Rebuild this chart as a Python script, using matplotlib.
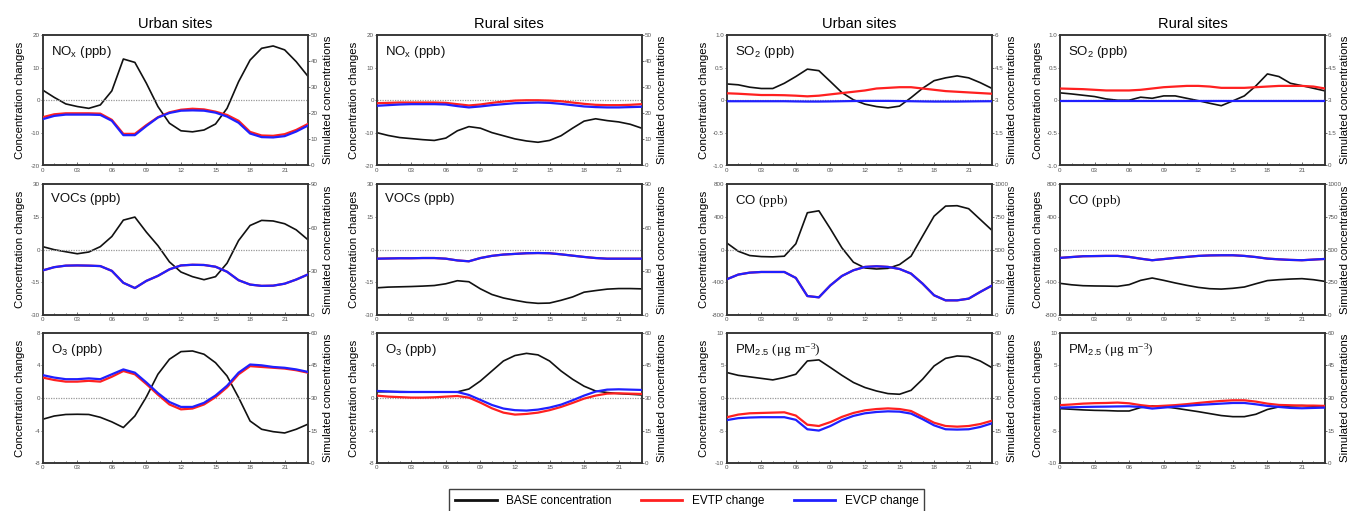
import matplotlib.pyplot as plt
from matplotlib.lines import Line2D
from matplotlib.ticker import MultipleLocator

plt.rcParams['font.family'] = ['Liberation Sans', 'DejaVu Sans']
plt.rcParams['mathtext.fontset'] = 'custom'
plt.rcParams['mathtext.rm'] = 'Liberation Serif'
plt.rcParams['mathtext.sf'] = 'Liberation Sans'

hours = list(range(24))
hour_ticks = [0, 3, 6, 9, 12, 15, 18, 21]
hour_labels = ['0', '03', '06', '09', '12', '15', '18', '21']
col_titles = ['Urban sites', 'Rural sites', 'Urban sites', 'Rural sites']

# NOx (ppb)
nox_urban_base = [28.9, 26.1, 23.6, 22.6, 21.9, 23.2, 28.6, 40.8, 39.5, 31.5, 22.6, 16.2,
                  13.3, 12.9, 13.6, 15.9, 21.9, 32.1, 40.4, 44.9, 45.8, 44.3, 39.8, 34.3]
nox_urban_evtp = [-5.2, -4.3, -4.0, -4.0, -4.0, -4.1, -6.0, -10.3, -10.3, -7.6, -5.2, -3.7,
                  -2.9, -2.6, -2.8, -3.5, -4.5, -6.3, -9.7, -10.8, -10.9, -10.4, -9.1, -7.3]
nox_urban_evcp = [-5.8, -4.8, -4.4, -4.4, -4.4, -4.5, -6.3, -10.7, -10.7, -7.9, -5.3, -3.9,
                  -3.2, -3.1, -3.2, -3.8, -5.0, -6.9, -10.2, -11.3, -11.4, -11.0, -9.6, -7.8]
nox_rural_base = [12.6, 11.5, 10.7, 10.3, 9.9, 9.6, 10.5, 13.3, 14.9, 14.3, 12.6, 11.4,
                  10.2, 9.4, 8.9, 9.6, 11.4, 14.3, 17.0, 17.9, 17.2, 16.7, 15.8, 14.3]
nox_rural_evtp = [-0.9, -0.8, -0.7, -0.7, -0.7, -0.7, -0.8, -1.2, -1.6, -1.3, -0.8, -0.4,
                  -0.1, 0.0, 0.0, -0.1, -0.3, -0.7, -1.1, -1.4, -1.5, -1.5, -1.4, -1.2]
nox_rural_evcp = [-1.7, -1.5, -1.3, -1.2, -1.2, -1.2, -1.3, -1.8, -2.2, -1.9, -1.5, -1.2,
                  -0.9, -0.8, -0.7, -0.8, -1.1, -1.5, -1.9, -2.1, -2.2, -2.2, -2.1, -2.0]

# SO2 (ppb)
so2_urban_base = [3.75, 3.71, 3.60, 3.54, 3.54, 3.78, 4.09, 4.43, 4.36, 3.86, 3.35, 3.02,
                  2.82, 2.71, 2.65, 2.73, 3.12, 3.55, 3.90, 4.03, 4.12, 4.03, 3.81, 3.55]
so2_urban_evtp = [0.107, 0.10, 0.09, 0.08, 0.08, 0.077, 0.07, 0.06, 0.07, 0.09, 0.11, 0.13,
                  0.15, 0.18, 0.19, 0.20, 0.20, 0.18, 0.16, 0.14, 0.13, 0.12, 0.11, 0.10]
so2_urban_evcp = [-0.015, -0.015, -0.015, -0.015, -0.015, -0.015, -0.018, -0.02, -0.02, -0.018,
                  -0.015, -0.012, -0.01, -0.01, -0.01, -0.012, -0.015, -0.018, -0.02, -0.02,
                  -0.02, -0.018, -0.016, -0.015]
so2_rural_base = [3.34, 3.29, 3.23, 3.17, 3.06, 3.00, 3.00, 3.14, 3.09, 3.20, 3.20, 3.09,
                  2.98, 2.86, 2.75, 2.97, 3.20, 3.66, 4.21, 4.09, 3.78, 3.67, 3.55, 3.43]
so2_rural_evtp = [0.18, 0.175, 0.17, 0.16, 0.15, 0.15, 0.15, 0.16, 0.18, 0.20, 0.21, 0.22,
                  0.22, 0.21, 0.19, 0.19, 0.19, 0.20, 0.21, 0.22, 0.22, 0.22, 0.21, 0.18]
so2_rural_evcp = [-0.01] * 24

# VOCs (ppb)
voc_urban_base = [47.0, 44.9, 43.5, 42.1, 43.3, 47.0, 54.0, 65.3, 67.4, 57.0, 47.7, 36.5,
                  29.5, 26.3, 24.2, 26.3, 35.6, 51.2, 61.6, 65.1, 64.7, 62.8, 58.6, 51.9]
voc_urban_evtp = [-9.6, -8.1, -7.4, -7.3, -7.4, -7.6, -9.8, -15.3, -17.7, -14.4, -12.1, -9.1,
                  -7.3, -7.0, -7.1, -7.9, -10.2, -14.1, -16.1, -16.7, -16.6, -15.7, -13.8, -11.5]
voc_urban_evcp = list(voc_urban_evtp)
voc_rural_base = [18.6, 19.1, 19.3, 19.5, 19.8, 20.2, 21.4, 23.5, 22.8, 17.9, 14.0, 11.6,
                  10.0, 8.6, 7.9, 8.1, 10.0, 12.3, 15.6, 16.7, 17.7, 18.1, 18.1, 17.9]
voc_rural_evtp = [-4.2, -4.1, -4.0, -4.0, -3.9, -3.9, -4.2, -5.0, -5.4, -3.9, -2.9, -2.3,
                  -2.0, -1.7, -1.6, -1.7, -2.2, -2.8, -3.4, -3.9, -4.2, -4.2, -4.2, -4.2]
voc_rural_evcp = list(voc_rural_evtp)

# CO (ppb)
co_urban_base = [551, 487, 454, 446, 444, 449, 544, 782, 797, 659, 513, 403,
                 359, 351, 356, 385, 449, 603, 756, 833, 836, 813, 731, 649]
co_urban_evtp = [-365, -307, -283, -275, -275, -275, -348, -570, -586, -439, -324, -254,
                 -213, -205, -213, -238, -295, -418, -561, -623, -623, -602, -520, -443]
co_urban_evcp = list(co_urban_evtp)
co_rural_base = [241, 230, 223, 221, 220, 218, 231, 264, 282, 264, 244, 226,
                 210, 200, 197, 203, 213, 238, 262, 269, 274, 277, 269, 256]
co_rural_evtp = [-102, -92, -82, -80, -78, -78, -90, -112, -131, -117, -102, -90,
                 -78, -72, -70, -70, -78, -92, -111, -120, -127, -131, -123, -115]
co_rural_evcp = list(co_rural_evtp)

# O3 (ppb)
o3_urban_base = [20.2, 21.7, 22.4, 22.5, 22.4, 21.1, 19.0, 16.4, 21.7, 30.5, 40.9, 47.8,
                 51.3, 51.6, 50.1, 46.2, 40.1, 30.2, 19.4, 15.6, 14.5, 13.9, 15.6, 17.9]
o3_urban_evtp = [2.5, 2.2, 2.0, 2.0, 2.1, 2.0, 2.6, 3.3, 2.9, 1.7, 0.4, -0.8,
                 -1.4, -1.3, -0.8, 0.1, 1.3, 2.9, 3.9, 3.8, 3.7, 3.6, 3.4, 3.1]
o3_urban_evcp = [2.8, 2.5, 2.3, 2.3, 2.4, 2.3, 2.9, 3.5, 3.1, 1.9, 0.6, -0.5,
                 -1.1, -1.1, -0.6, 0.3, 1.5, 3.1, 4.1, 4.0, 3.8, 3.7, 3.5, 3.2]
o3_rural_base = [32.8, 32.9, 32.9, 32.8, 32.8, 32.8, 32.8, 32.8, 34.1, 37.8, 42.4, 47.0,
                 49.5, 50.5, 49.8, 47.0, 42.4, 38.6, 35.4, 33.2, 32.5, 32.0, 31.7, 31.4]
o3_rural_evtp = [0.29, 0.16, 0.10, 0.04, 0.04, 0.08, 0.16, 0.24, 0.04, -0.57, -1.27, -1.8,
                 -2.04, -1.96, -1.8, -1.5, -1.1, -0.61, -0.08, 0.29, 0.53, 0.57, 0.53, 0.49]
o3_rural_evcp = [0.86, 0.80, 0.73, 0.73, 0.73, 0.73, 0.73, 0.73, 0.37, -0.24, -0.86, -1.3,
                 -1.5, -1.55, -1.43, -1.18, -0.82, -0.29, 0.29, 0.78, 1.02, 1.06, 1.02, 0.98]

# PM2.5 (ug m-3)
pm_urban_base = [41.7, 40.4, 39.7, 39.0, 38.3, 39.4, 40.9, 47.0, 47.5, 44.0, 40.4, 37.1,
                 34.8, 33.2, 32.0, 31.7, 33.5, 38.6, 44.7, 48.2, 49.3, 49.0, 47.0, 44.0]
pm_urban_evtp = [-2.96, -2.55, -2.35, -2.3, -2.25, -2.2, -2.7, -4.1, -4.3, -3.7, -2.9, -2.3,
                 -1.9, -1.7, -1.6, -1.7, -2.0, -2.9, -3.8, -4.3, -4.4, -4.3, -4.0, -3.5]
pm_urban_evcp = [-3.4, -3.1, -3.0, -2.95, -2.95, -2.95, -3.35, -4.8, -5.0, -4.3, -3.4, -2.75,
                 -2.35, -2.15, -2.05, -2.1, -2.4, -3.25, -4.2, -4.8, -4.85, -4.8, -4.45, -3.9]
pm_rural_base = [25.1, 24.8, 24.5, 24.3, 24.2, 24.0, 24.0, 25.6, 26.3, 26.0, 25.3, 24.5,
                 23.7, 22.8, 21.9, 21.4, 21.4, 22.5, 24.7, 25.9, 26.3, 26.5, 26.2, 25.9]
pm_rural_evtp = [-1.1, -1.0, -0.87, -0.8, -0.77, -0.71, -0.82, -1.1, -1.3, -1.2, -1.1, -0.95,
                 -0.77, -0.6, -0.46, -0.36, -0.36, -0.56, -0.87, -1.07, -1.12, -1.17, -1.17, -1.22]
pm_rural_evcp = [-1.48, -1.43, -1.38, -1.35, -1.33, -1.3, -1.28, -1.38, -1.63, -1.48, -1.33, -1.2,
                 -1.07, -0.97, -0.87, -0.77, -0.77, -0.97, -1.22, -1.38, -1.53, -1.58, -1.53, -1.48]

# panel specs: label, left ticks/labels, right ticks/labels, series
nox_label = r'NO$_{\mathsf{x}}$ (ppb)'
so2_label = r'SO$_{\mathsf{2}}$ (ppb)'
voc_label = 'VOCs (ppb)'
co_label = r'CO $\mathrm{(ppb)}$'
o3_label = r'O$_{\mathsf{3}}$ (ppb)'
pm_label = r'PM$_{\mathsf{2.5}}$ $\mathrm{(\mu g\ m^{-3})}$'

nox_left = ([-20, -10, 0, 10, 20], ['-20', '-10', '0', '10', '20'])
nox_right = ([0, 10, 20, 30, 40, 50], ['0', '10', '20', '30', '40', '50'])
so2_left = ([-1, -0.5, 0, 0.5, 1], ['-1.0', '-0.5', '0', '0.5', '1.0'])
so2_right = ([0, 1.5, 3, 4.5, 6], ['0', '1.5', '3', '4.5', '6'])
voc_left = ([-30, -15, 0, 15, 30], ['-30', '-15', '0', '15', '30'])
voc_right = ([0, 30, 60, 90], ['0', '30', '60', '90'])
co_left = ([-800, -400, 0, 400, 800], ['-800', '-400', '0', '400', '800'])
co_right = ([0, 250, 500, 750, 1000], ['0', '250', '500', '750', '1000'])
o3_left = ([-8, -4, 0, 4, 8], ['-8', '-4', '0', '4', '8'])
o3_right = ([0, 15, 30, 45, 60], ['0', '15', '30', '45', '60'])
pm_left = ([-10, -5, 0, 5, 10], ['-10', '-5', '0', '5', '10'])
pm_right = ([0, 15, 30, 45, 60], ['0', '15', '30', '45', '60'])

panels = [
    [(nox_label, nox_left, nox_right, nox_urban_base, nox_urban_evtp, nox_urban_evcp),
     (nox_label, nox_left, nox_right, nox_rural_base, nox_rural_evtp, nox_rural_evcp),
     (so2_label, so2_left, so2_right, so2_urban_base, so2_urban_evtp, so2_urban_evcp),
     (so2_label, so2_left, so2_right, so2_rural_base, so2_rural_evtp, so2_rural_evcp)],
    [(voc_label, voc_left, voc_right, voc_urban_base, voc_urban_evtp, voc_urban_evcp),
     (voc_label, voc_left, voc_right, voc_rural_base, voc_rural_evtp, voc_rural_evcp),
     (co_label, co_left, co_right, co_urban_base, co_urban_evtp, co_urban_evcp),
     (co_label, co_left, co_right, co_rural_base, co_rural_evtp, co_rural_evcp)],
    [(o3_label, o3_left, o3_right, o3_urban_base, o3_urban_evtp, o3_urban_evcp),
     (o3_label, o3_left, o3_right, o3_rural_base, o3_rural_evtp, o3_rural_evcp),
     (pm_label, pm_left, pm_right, pm_urban_base, pm_urban_evtp, pm_urban_evcp),
     (pm_label, pm_left, pm_right, pm_rural_base, pm_rural_evtp, pm_rural_evcp)],
]

W, H = 1352, 511
fig = plt.figure(figsize=(W / 100, H / 100), dpi=100)

col_x = [42.7, 376.7, 726.7, 1060.0]
row_top = [35.0, 184.3, 332.7]
pw, ph = 265.0, 130.5
spine_col = '#333333'
tick_col = '#555555'

for r in range(3):
    for c in range(4):
        label, (lt, ltl), (rt, rtl), base, evtp, evcp = panels[r][c]
        ax = fig.add_axes([col_x[c] / W, 1 - (row_top[r] + ph) / H, pw / W, ph / H])
        ax2 = ax.twinx()
        ax.set_zorder(ax2.get_zorder() + 1)
        ax.patch.set_visible(False)

        ax.axhline(0, color='#999999', lw=0.9, ls=(0, (1, 1)), zorder=1)
        ax.plot(hours, evtp, color='#ff2020', lw=1.6, zorder=3)
        ax.plot(hours, evcp, color='#2020ff', lw=1.6, zorder=4)
        ax2.plot(hours, base, color='#111111', lw=1.2)

        ax.set_xlim(0, 23)
        ax.set_ylim(lt[0], lt[-1])
        ax2.set_ylim(rt[0], rt[-1])
        ax.set_xticks(hour_ticks)
        ax.set_xticklabels(hour_labels)
        ax.xaxis.set_minor_locator(MultipleLocator(1))
        ax.set_yticks(lt)
        ax.set_yticklabels(ltl)
        ax2.set_yticks(rt)
        ax2.set_yticklabels(rtl)

        ax.tick_params(axis='x', which='both', direction='in', labelsize=4.5, colors=tick_col,
                       length=2, width=0.6, pad=1.5)
        ax.tick_params(axis='x', which='minor', length=1.5)
        ax.tick_params(axis='y', labelsize=4.5, colors=tick_col, length=1.5, width=0.6, pad=0.5)
        ax2.tick_params(axis='y', labelsize=4.5, colors=tick_col, length=1.5, width=0.6, pad=0.5)
        for a in (ax, ax2):
            for s in a.spines.values():
                s.set_color(spine_col)
                s.set_linewidth(1.1)

        ax.set_ylabel('Concentration changes', fontsize=8.2)
        ax.yaxis.set_label_coords(-0.065, 0.5)
        ax2.set_ylabel('Simulated concentrations', fontsize=8.2)
        ax2.yaxis.set_label_coords(1.058, 0.5)
        ax.text(0.03, 0.93, label, transform=ax.transAxes, fontsize=9.5,
                ha='left', va='top', color='#111111')

        if r == 0:
            ax.set_title(col_titles[c], fontsize=10.5, pad=5)

handles = [Line2D([], [], color='#111111', lw=2),
           Line2D([], [], color='#ff2020', lw=2),
           Line2D([], [], color='#2020ff', lw=2)]
fig.legend(handles, ['BASE concentration', 'EVTP change', 'EVCP change'],
           loc='upper center', bbox_to_anchor=(0.508, 1 - 483 / H), ncol=3,
           fontsize=8.5, frameon=True, fancybox=False, edgecolor='#111111',
           handlelength=3.5, columnspacing=2.5, borderpad=0.5)

fig.savefig('out.png', dpi=100)
